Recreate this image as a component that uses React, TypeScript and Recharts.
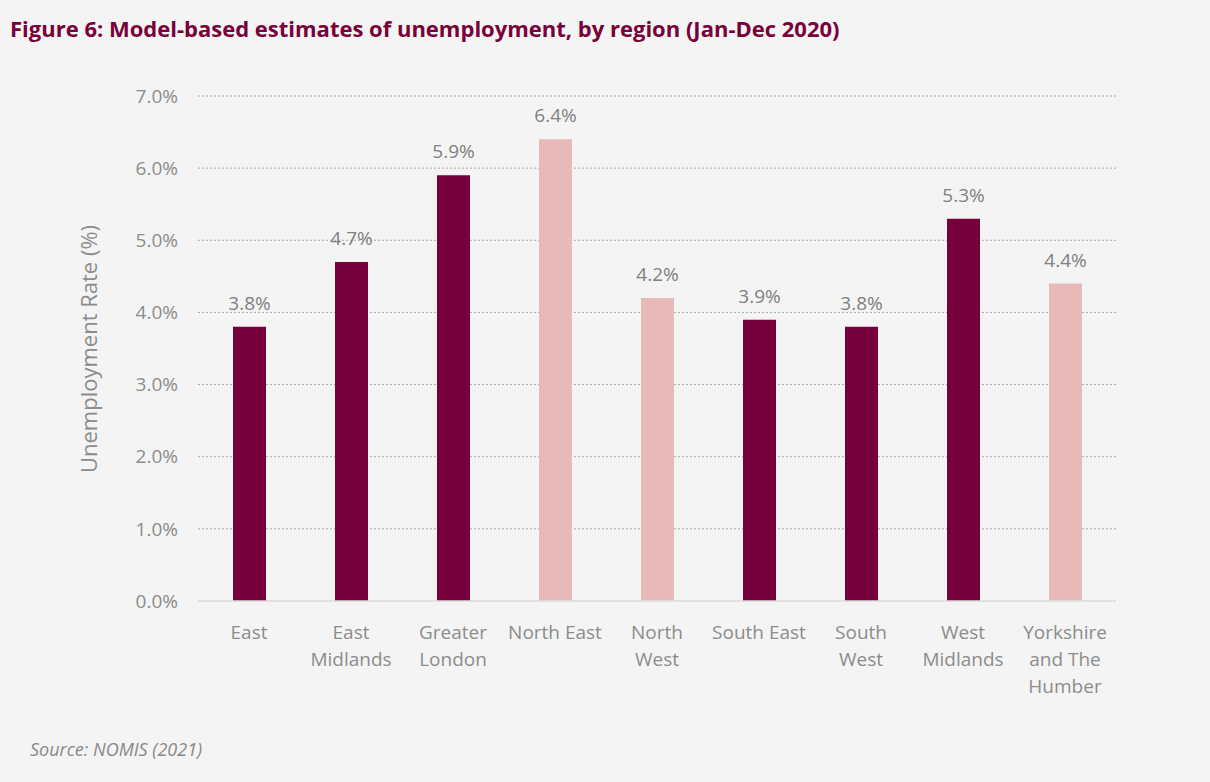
import React from "react"
import { BarChart, Bar, XAxis, YAxis, CartesianGrid, Cell, LabelList } from "recharts"

const regions = [
  "East",
  "East Midlands",
  "Greater London",
  "North East",
  "North West",
  "South East",
  "South West",
  "West Midlands",
  "Yorkshire and The Humber",
]

// how each region name wraps under the axis
const tickLabels = [
  ["East"],
  ["East", "Midlands"],
  ["Greater", "London"],
  ["North East"],
  ["North", "West"],
  ["South East"],
  ["South", "West"],
  ["West", "Midlands"],
  ["Yorkshire", "and The", "Humber"],
]

const rates = [3.8, 4.7, 5.9, 6.4, 4.2, 3.9, 3.8, 5.3, 4.4]

// regions shown in the lighter shade
const highlighted = [false, false, false, true, true, false, false, false, true]

const yTicks = [0, 1, 2, 3, 4, 5, 6, 7]

const DARK = "#76003a"
const LIGHT = "#e8b9b9"
const GREY = "#8c8c8c"
const FONT = "'Open Sans', sans-serif"

const data = regions.map((name, i) => ({ name, rate: rates[i], light: highlighted[i] }))

function RegionTick(props: any) {
  const { x, y, index } = props
  const lines = tickLabels[index] || []
  return (
    <g transform={`translate(${x},${y})`}>
      <text textAnchor="middle" fill={GREY} fontSize={19} fontFamily={FONT}>
        {lines.map((line: string, i: number) => (
          <tspan key={i} x={0} y={30 + i * 27}>
            {line}
          </tspan>
        ))}
      </text>
    </g>
  )
}

function AxisTitle() {
  return (
    <text
      x={88}
      y={349}
      transform="rotate(-90 88 349)"
      textAnchor="middle"
      dominantBaseline="central"
      fill={GREY}
      fontSize={22}
      fontFamily={FONT}
    >
      Unemployment Rate (%)
    </text>
  )
}

export default function App() {
  return (
    <div
      style={{
        position: "absolute",
        left: 0,
        top: 0,
        width: 1210,
        height: 782,
        background: "#f4f4f4",
        fontFamily: FONT,
      }}
    >
      <div
        style={{
          position: "absolute",
          left: 10,
          top: 13,
          fontSize: 22,
          fontWeight: 700,
          color: "#7a0038",
          whiteSpace: "nowrap",
        }}
      >
        Figure 6: Model-based estimates of unemployment, by region (Jan-Dec 2020)
      </div>
      <div style={{ position: "absolute", left: 0, top: 0 }}>
        <BarChart
          width={1210}
          height={782}
          data={data}
          margin={{ top: 96, right: 94, bottom: 151, left: 0 }}
        >
          <CartesianGrid vertical={false} stroke="#a8a8a8" strokeDasharray="2 2" strokeWidth={1} />
          <XAxis
            dataKey="name"
            axisLine={{ stroke: "#e0e0e0", strokeWidth: 1.5 }}
            tickLine={false}
            tick={<RegionTick />}
            interval={0}
          />
          <YAxis
            width={198}
            domain={[0, 7]}
            ticks={yTicks}
            axisLine={false}
            tickLine={false}
            tickSize={0}
            tickMargin={20}
            tickFormatter={(v: number) => `${v.toFixed(1)}%`}
            tick={{ fill: GREY, fontSize: 19, fontFamily: FONT }}
            label={<AxisTitle />}
          />
          <Bar dataKey="rate" barSize={33} isAnimationActive={false}>
            {data.map((d, i) => (
              <Cell key={i} fill={d.light ? LIGHT : DARK} />
            ))}
            <LabelList
              dataKey="rate"
              position="top"
              offset={17}
              formatter={(v: any) => `${Number(v).toFixed(1)}%`}
              style={{ fill: "#808080", fontSize: 19, fontFamily: FONT }}
            />
          </Bar>
        </BarChart>
      </div>
      <div
        style={{
          position: "absolute",
          left: 30,
          top: 737,
          fontSize: 18,
          fontStyle: "italic",
          color: "#888888",
        }}
      >
        Source: NOMIS (2021)
      </div>
    </div>
  )
}
